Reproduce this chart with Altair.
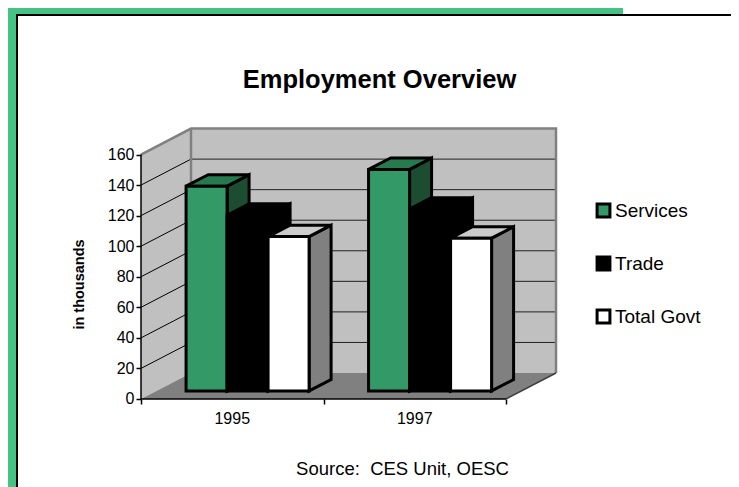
import altair as alt
import pandas as pd

YEARS = ["1995", "1997"]
SERIES = ["Services", "Trade", "Total Govt"]
SERVICES = [134, 145]
TRADE = [115, 119]
TOTAL_GOVT = [101, 100]
TICKS = [0, 20, 40, 60, 80, 100, 120, 140, 160]

FRONT = ["#339966", "#000000", "#FFFFFF"]
TOPS = ["#267A4D", "#000000", "#CCCCCC"]
SIDES = ["#1C4D33", "#000000", "#808080"]

W, H = 723, 479
# Oblique projection: depth z (0..1) shifts a point right and up on the page.
DEPTH_U, DEPTH_V = 0.274, 17.0
XD = [-0.7288, 3.2329]
YD = [-57.6, 255.9]
BAR_W = 0.2247
GROUP_START = 0.162
Z0, Z1 = 0.31, 0.75


def X(u, z=0.0):
    return u + z * DEPTH_U


def Y(v, z=0.0):
    return v + z * DEPTH_V


xs = alt.Scale(domain=XD, nice=False, zero=False)
ys = alt.Scale(domain=YD, nice=False, zero=False)


def enc_x(field="x", axis=None):
    return alt.X(f"{field}:Q", scale=xs, axis=axis, title=None)


def enc_y(field="y", axis=None):
    return alt.Y(f"{field}:Q", scale=ys, axis=axis, title=None)


def rect(x, x2, y, y2, **mk):
    d = pd.DataFrame([dict(x=x, x2=x2, y=y, y2=y2)])
    return alt.Chart(d).mark_rect(**mk).encode(
        x=enc_x(), x2="x2:Q", y=enc_y(), y2="y2:Q")


def slant_v(x0, x1, lo0, lo1, hi0, hi1, **mk):
    d = pd.DataFrame([dict(x=x0, y=lo0, y2=hi0), dict(x=x1, y=lo1, y2=hi1)])
    return alt.Chart(d).mark_area(**mk).encode(x=enc_x(), y=enc_y(), y2="y2:Q")


def slant_h(y0, y1, a0, a1, b0, b1, **mk):
    d = pd.DataFrame([dict(y=y0, x=a0, x2=b0), dict(y=y1, x=a1, x2=b1)])
    return alt.Chart(d).mark_area(orient="horizontal", **mk).encode(
        x=enc_x(), x2="x2:Q", y=enc_y())


def line(pts, **mk):
    d = pd.DataFrame([dict(x=p[0], y=p[1], o=i) for i, p in enumerate(pts)])
    return alt.Chart(d).mark_line(**mk).encode(
        x=enc_x(), y=enc_y(), order="o:Q")


layers = []

# walls and floor
layers.append(rect(X(0, 1), X(2, 1), Y(0, 1), Y(160, 1), color="#C0C0C0"))
layers.append(slant_v(X(0), X(0, 1), Y(0), Y(0, 1), Y(160), Y(160, 1), color="#C0C0C0"))
layers.append(slant_h(Y(0), Y(0, 1), X(0), X(0, 1), X(2), X(2, 1), color="#808080"))

for t in TICKS[1:-1]:
    layers.append(line([(X(0, 1), Y(t, 1)), (X(2, 1), Y(t, 1))], color="#222222", strokeWidth=1))
    layers.append(line([(X(0), Y(t)), (X(0, 1), Y(t, 1))], color="#000000", strokeWidth=1))

GRAY = dict(color="#808080", strokeWidth=2.5)
layers.append(line([(X(0), Y(160)), (X(0, 1), Y(160, 1)), (X(2, 1), Y(160, 1)), (X(2, 1), Y(0, 1))], **GRAY))
layers.append(line([(X(0, 1), Y(160, 1)), (X(0, 1), Y(0, 1))], **GRAY))
layers.append(line([(X(2), Y(0)), (X(2, 1), Y(0, 1))], color="#404040", strokeWidth=1.5))
layers.append(line([(X(0), Y(0)), (X(2), Y(0))], color="#000000", strokeWidth=1.5))
layers.append(line([(X(0), Y(0)), (X(0), Y(160))], color="#000000", strokeWidth=1.5))

# real axes carrying ticks and labels
axis_layer = alt.Chart(pd.DataFrame({"x": [0.0], "y": [0.0]})).mark_point(opacity=0).encode(
    x=enc_x(axis=alt.Axis(values=[0, 1, 2], labels=False, domain=False, grid=False,
                          offset=-88, tickSize=5, tickColor="#000000", tickWidth=1.5)),
    y=enc_y(axis=alt.Axis(values=TICKS, domain=False, grid=False, offset=-133,
                          tickSize=5, tickColor="#000000", tickWidth=1.5,
                          labelFontSize=16, labelColor="#000000", labelPadding=2,
                          format="d", title="in thousands", titleFontSize=14.5,
                          titleFontWeight="bold", titleColor="#000000",
                          titleX=-62, titleY=276, titleAngle=270,
                          titleBaseline="middle", titleAlign="center")),
)
layers.append(axis_layer)

# bars, drawn back to front in series order
VALUES = [SERVICES, TRADE, TOTAL_GOVT]
STROKE = dict(stroke="#000000", strokeWidth=3)
for g in range(len(YEARS)):
    for s, name in enumerate(SERIES):
        v = VALUES[s][g]
        u0 = g + GROUP_START + s * BAR_W
        u1 = u0 + BAR_W
        layers.append(slant_v(X(u1, Z0), X(u1, Z1), Y(0, Z0), Y(0, Z1), Y(v, Z0), Y(v, Z1),
                              color=SIDES[s], **STROKE))
        layers.append(slant_h(Y(v, Z0), Y(v, Z1), X(u0, Z0), X(u0, Z1), X(u1, Z0), X(u1, Z1),
                              color=TOPS[s], **STROKE))
        d = pd.DataFrame([dict(x=X(u0, Z0), x2=X(u1, Z0), y=Y(0, Z0), y2=Y(v, Z0), series=name)])
        layers.append(alt.Chart(d).mark_rect(**STROKE).encode(
            x=enc_x(), x2="x2:Q", y=enc_y(), y2="y2:Q",
            fill=alt.Fill("series:N", scale=alt.Scale(domain=SERIES, range=FRONT), legend=alt.Legend(
                title=None, orient="none", legendX=586, legendY=193, symbolType="square",
                symbolSize=165, symbolStrokeColor="#000000", symbolStrokeWidth=3,
                symbolOpacity=1, labelFontSize=19, labelColor="#000000", labelOffset=2,
                rowPadding=28, labelLimit=200, values=SERIES)),
        ))

# category labels
cat = pd.DataFrame({"x": [g + 0.5 for g in range(len(YEARS))], "y": [0, 0], "t": YEARS})
layers.append(alt.Chart(cat).mark_text(fontSize=16, color="#000000", baseline="top", dy=12).encode(
    x=enc_x(), y=enc_y(), text="t:N"))

one = pd.DataFrame({"a": [0]})


def deco(x, x2, y, y2, color):
    return alt.Chart(one).mark_rect(color=color).encode(
        x=alt.value(x), x2=alt.value(x2), y=alt.value(y), y2=alt.value(y2))


# source note
layers.append(alt.Chart(pd.DataFrame({"t": ["Source:\u00a0 CES Unit, OESC"]})).mark_text(
    fontSize=18.5, color="#000000").encode(
    x=alt.value(394.5), y=alt.value(461), text="t:N"))

# page frame: the 8px page margin cannot be painted, so it sits at the chart edge
layers.append(deco(0, 615, 0, 6, "#47C285"))
layers.append(deco(8, 723, 6, 8, "#000000"))
layers.append(deco(0, 8, 0, 479, "#47C285"))
layers.append(deco(8, 10, 6, 479, "#000000"))

chart = alt.layer(*layers).properties(
    width=W, height=H, padding=0,
    autosize=alt.AutoSizeParams(type="none"),
    title=alt.TitleParams("Employment Overview", fontSize=25.5, fontWeight="bold",
                          color="#000000", anchor="middle", dx=10, dy=85, offset=0),
).resolve_axis(x="independent", y="independent").configure(
    font="Liberation Sans").configure_view(stroke=None)

chart.save("out.html", embed_options={"renderer": "svg", "actions": False})
